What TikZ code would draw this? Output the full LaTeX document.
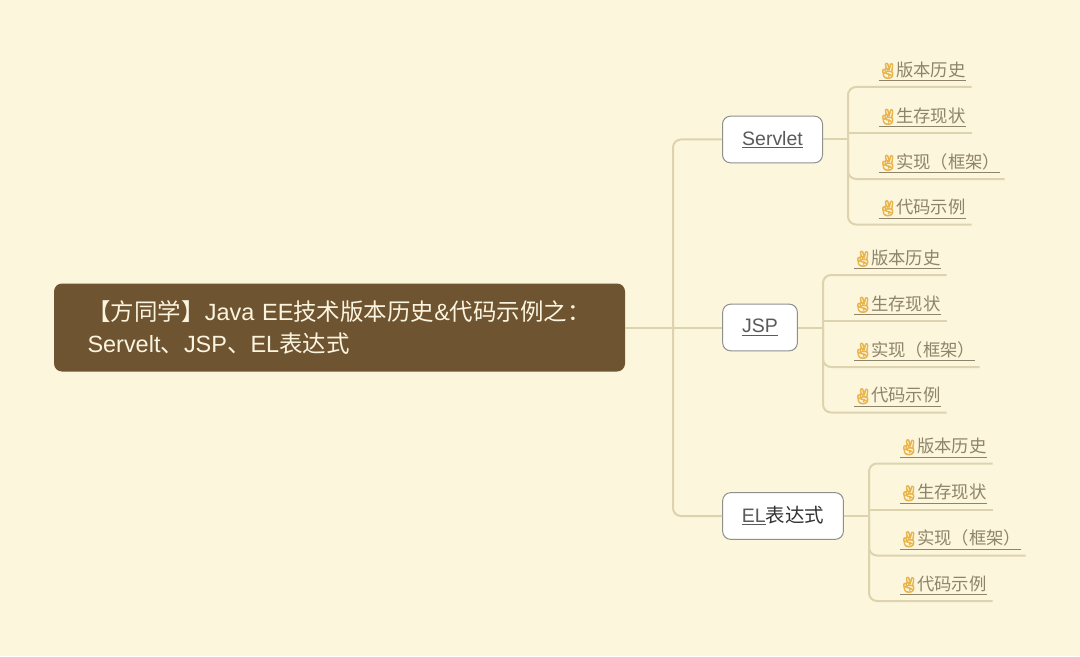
\documentclass[tikz,border=0pt]{standalone}
\usepackage{fontspec}
\setmainfont{Liberation Sans}
\newfontfamily\cjk{Noto Sans CJK SC}
\newfontfamily\emojifont[FakeBold=5]{Noto Emoji}
\definecolor{paper}{HTML}{FCF6DC}
\definecolor{rootfill}{HTML}{6F5431}
\definecolor{rootink}{HTML}{FBF4DF}
\definecolor{linecol}{HTML}{DDD3AE}
\definecolor{leafink}{HTML}{8E8469}
\definecolor{tipcol}{HTML}{E9B44C}
\definecolor{boxline}{HTML}{8F8F8C}
\definecolor{boxink}{HTML}{5A5A5A}
\newcommand{\leaflabel}[1]{\hspace*{23.25pt}$\underline{\hbox{\makebox[12.75pt][c]{\color{tipcol}\emojifont\fontsize{11.5}{12}\selectfont ✌}{\cjk #1}}}$}
\tikzset{
	rootbox/.style={fill=rootfill, text=rootink, rounded corners=6pt, minimum width=428.25pt, minimum height=66pt, text width=378pt, inner xsep=0pt, font=\fontsize{17.6}{24}\selectfont, align=left},
	subbox/.style={draw=boxline, fill=white, text=boxink, line width=0.75pt, rounded corners=6pt, minimum height=35pt, inner xsep=0pt, font=\fontsize{14.6}{18}\selectfont},
	leafbox/.style={anchor=south west, inner sep=0pt, text=leafink, text width=#1, align=left, text height=14pt, text depth=8pt, font=\fontsize{13}{16}\selectfont},
	leafbox/.default=92.25pt,
	branch/.style={draw=linecol, line width=1.5pt, rounded corners=6pt},
}
\begin{document}
\begin{tikzpicture}[x=0.75pt,y=-0.75pt]
	\useasboundingbox (0,0) rectangle (1080,656);
	\fill[paper] (0,0) rectangle (1080,656);

	\node[rootbox] (root) at (339.5,327.5) {{\cjk 【方同学】}Java EE{\cjk 技术版本历史}\&{\cjk 代码示例之：}\\Servelt{\cjk 、}JSP{\cjk 、}EL{\cjk 表达式}};

	\node[subbox, minimum width=75pt] (servlet) at (772.5,139.5) {$\underline{\hbox{Servlet}}$};
	\node[subbox, minimum width=56pt] (jsp) at (760,327.5) {$\underline{\hbox{JSP}}$};
	\node[subbox, minimum width=90.5pt] (el) at (783,516) {$\underline{\hbox{EL}}${\color{black!80}\cjk 表达式}};

	\coordinate (trunk) at (673,327.5);
	\draw[branch] (root.east) -- (jsp.west);
	\draw[branch] (trunk) |- (servlet.west);
	\draw[branch] (trunk) |- (el.west);

	\foreach \grp/\xx/\yy in {servlet/848/139.5, jsp/823/327.5, el/869/516} {
		\node[leafbox] (\grp1) at (\xx,\yy-52.5) {\leaflabel{版本历史}};
		\node[leafbox] (\grp2) at (\xx,\yy-6.5) {\leaflabel{生存现状}};
		\node[leafbox=117pt] (\grp3) at (\xx,\yy+39.5) {\leaflabel{实现（框架）}};
		\node[leafbox] (\grp4) at (\xx,\yy+85) {\leaflabel{代码示例}};
		\coordinate (\grp fork) at (\xx,\yy);
		\draw[branch] (\grp.east) -- (\grp fork);
		\draw[branch, sharp corners] (\grp fork) |- (\grp2.south east);
		\foreach \num in {1,3,4} {
			\draw[branch] (\grp fork) |- (\grp\num.south east);
		}
	}
\end{tikzpicture}
\end{document}
